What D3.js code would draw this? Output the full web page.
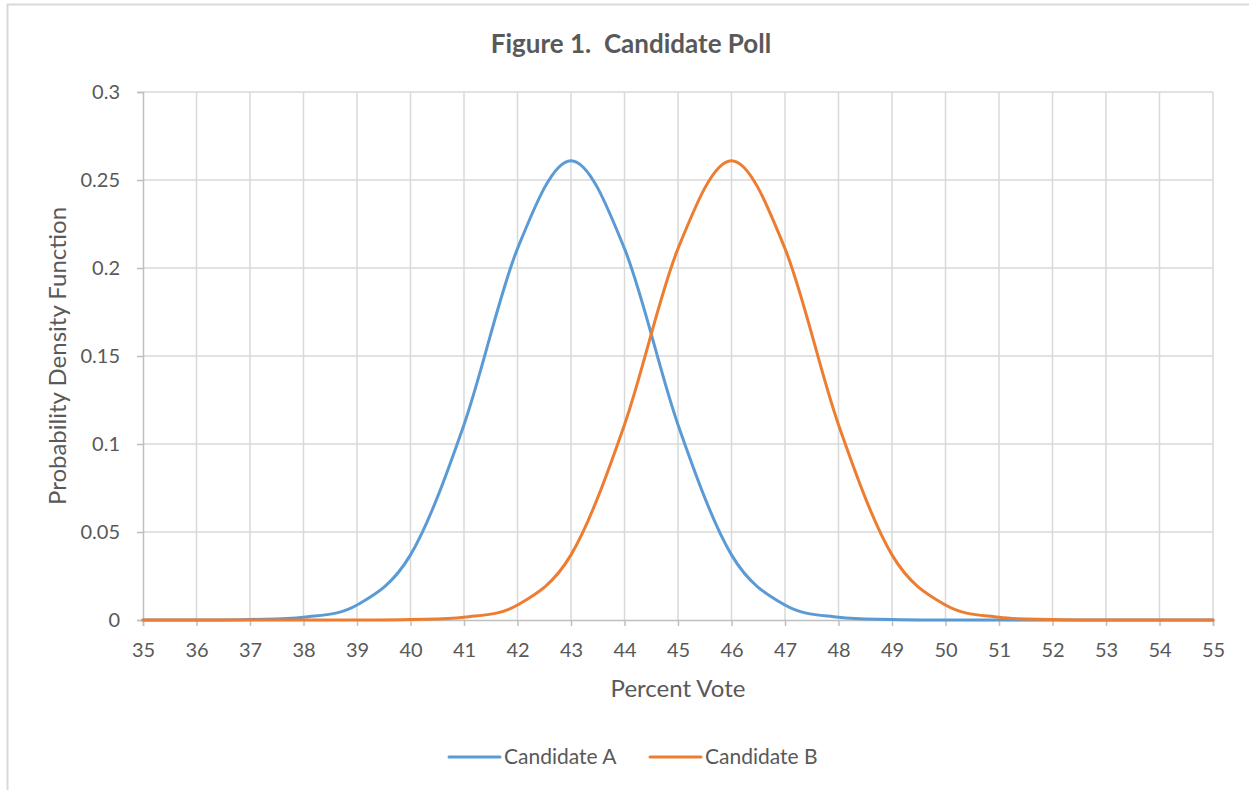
<!DOCTYPE html>
<html><head><meta charset="utf-8">
<script src="https://cdn.jsdelivr.net/npm/d3@7"></script>
<style>
body{margin:0;background:#fff;}
text{font-family:Lato,"Open Sans",sans-serif;}
</style></head>
<body><svg id="c" width="1249" height="790"></svg>
<script>
const percentVote = [35,36,37,38,39,40,41,42,43,44,45,46,47,48,49,50,51,52,53,54,55];
const candidateA = [0,0.00002,0.0003,0.0015,0.0085,0.037,0.111,0.211,0.261,0.211,0.111,0.037,0.0085,0.0015,0.0003,0.00002,0,0,0,0,0];
const candidateB = [0,0,0,0,0.00002,0.0003,0.0015,0.0085,0.037,0.111,0.211,0.261,0.211,0.111,0.037,0.0085,0.0015,0.0003,0.00002,0,0];
const yTicks = [0,0.05,0.1,0.15,0.2,0.25,0.3];
const seriesNames = ["Candidate A","Candidate B"];
const seriesColors = ["#5b9bd5","#ed7d31"];

const svg = d3.select("#c");
const L=143,R=1213,T=92,B=620;
const x = d3.scaleLinear().domain([35,55]).range([L,R]);
const y = d3.scaleLinear().domain([0,0.3]).range([B,T]);

// outer frame
svg.append("line").attr("x1",7).attr("x2",1249).attr("y1",4.5).attr("y2",4.5).attr("stroke","#d9d9d9").attr("stroke-width",2);
svg.append("line").attr("x1",7.5).attr("x2",7.5).attr("y1",4).attr("y2",790).attr("stroke","#d9d9d9").attr("stroke-width",2);

// gridlines
svg.append("g").selectAll("line").data(percentVote.slice(1)).join("line")
  .attr("x1",d=>x(d)).attr("x2",d=>x(d)).attr("y1",T).attr("y2",B)
  .attr("stroke","#d9d9d9").attr("stroke-width",1.5);
svg.append("g").selectAll("line").data(yTicks.slice(1)).join("line")
  .attr("x1",L).attr("x2",R).attr("y1",d=>y(d)).attr("y2",d=>y(d))
  .attr("stroke","#d9d9d9").attr("stroke-width",1.5);

// axes
const xAxis = svg.append("g").attr("transform",`translate(0,${B})`)
  .call(d3.axisBottom(x).tickValues(percentVote).tickFormat(d3.format("d")).tickSize(6).tickPadding(17));
const yAxis = svg.append("g").attr("transform",`translate(${L},0)`)
  .call(d3.axisLeft(y).tickValues(yTicks).tickFormat(d=>String(d)).tickSize(6).tickPadding(17));
[xAxis,yAxis].forEach(a=>{
  a.select(".domain").attr("stroke","#bfbfbf").attr("stroke-width",1.5);
  a.selectAll(".tick line").attr("stroke","#bfbfbf").attr("stroke-width",1.5);
  a.selectAll("text").attr("fill","#595959").style("font-size","20px").style("font-family","Lato,'Open Sans',sans-serif");
});

// lines
const line = d3.line().x((d,i)=>x(percentVote[i])).y(d=>y(d)).curve(d3.curveCardinal.tension(0));
[candidateA,candidateB].forEach((s,i)=>{
  svg.append("path").datum(s).attr("d",line).attr("fill","none")
    .attr("stroke",seriesColors[i]).attr("stroke-width",3).attr("stroke-linejoin","round").attr("stroke-linecap","round");
});

// titles
svg.append("text").attr("x",631).attr("y",53).attr("text-anchor","middle").style("white-space","pre")
  .attr("fill","#595959").style("font-size","26px").style("font-weight","bold").text("Figure 1.  Candidate Poll");
svg.append("text").attr("x",(L+R)/2).attr("y",697).attr("text-anchor","middle")
  .attr("fill","#595959").style("font-size","24px").text("Percent Vote");
svg.append("text").attr("transform",`translate(66,${(T+B)/2}) rotate(-90)`).attr("text-anchor","middle")
  .attr("fill","#595959").style("font-size","24px").text("Probability Density Function");

// legend
const legX=[449,650];
seriesNames.forEach((n,i)=>{
  svg.append("line").attr("x1",legX[i]).attr("x2",legX[i]+51).attr("y1",757).attr("y2",757)
    .attr("stroke",seriesColors[i]).attr("stroke-width",3).attr("stroke-linecap","round");
  svg.append("text").attr("x",legX[i]+55).attr("y",764).attr("fill","#595959").style("font-size","21px").text(n);
});
</script></body></html>
